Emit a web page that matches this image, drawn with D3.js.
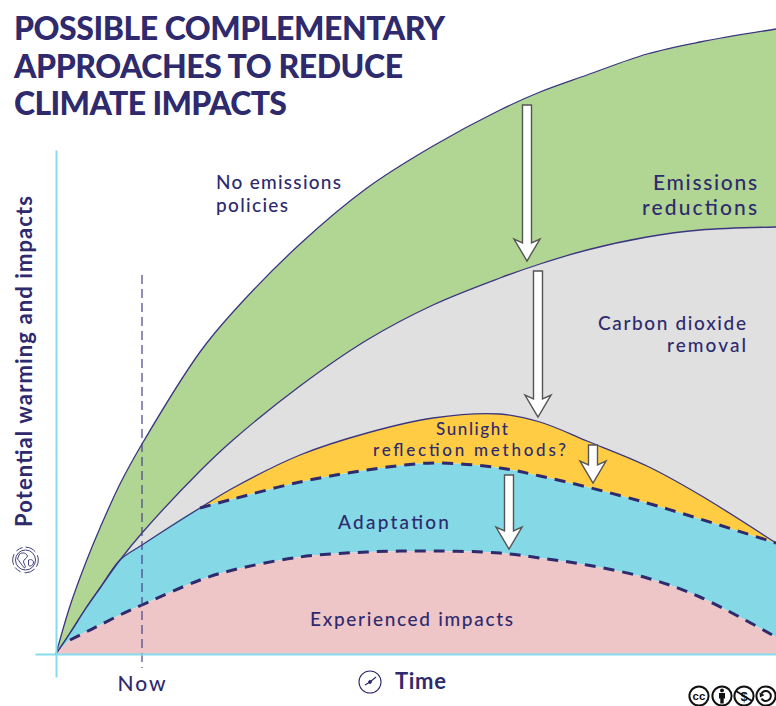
<!DOCTYPE html>
<html lang="en">

<head>
  <meta charset="UTF-8">
  <title>Possible complementary approaches to reduce climate impacts</title>
  <script src="https://cdn.jsdelivr.net/npm/d3@7"></script>
  <style type="text/css">
    html, body { margin: 0; padding: 0; background: #fff; overflow: hidden; }
    svg { display: block; }
    text { font-family: Lato, sans-serif; fill: #2e2a6d; }
  </style>
</head>

<body>
  <script type="text/javascript">
    // values
    var time = [0, 14, 30, 44, 64, 86, 144, 177, 244, 311, 377, 444, 484, 531, 591, 644, 720]
    var noPolicies = [0, 48, 92, 126, 170, 210, 302, 342, 410, 466, 508, 544, 562, 579, 600, 612, 625]
    var reductions = [0, 21, 46, 66, 94, 121, 183, 214, 268, 314, 349, 376, 390, 404, 417, 424, 427]
    var removal = [0, 21, 46, 66, 94, 109, 146, 166, 199, 221, 236, 240, 232, 213, 188, 159, 111]
    var sunlight = [0, 21, 46, 66, 94, 109, 146, 155, 172, 184, 191, 186, 178, 167, 151, 135, 111]
    var impacts = [0, 14, 22, 29, 39, 49, 74, 84, 97, 102, 103, 101, 96, 89, 76, 57, 17]

    // arrows between the curves
    var arrowTime = [471, 482, 537, 453]
    var arrowFrom = [549, 383, 209, 179]
    var arrowTo = [393, 237, 171, 105]

    var xTickValues = [86]
    var xTickLabels = ['Now']

    var w = 776
    var h = 706
    var navy = '#2e2a6d'
    var axisColor = '#85dcec'

    var xScale = d3.scaleLinear().domain([-21, 720]).range([35, 776])
    var yScale = d3.scaleLinear().domain([-23, 504]).range([677, 150])

    var svg = d3.select('body').append('svg').attr('width', w).attr('height', h)

    // bands, top to bottom
    var bands = [
      { upper: noPolicies, lower: reductions, fill: '#b1d694' },
      { upper: reductions, lower: removal, fill: '#e0e0e0' },
      { upper: removal, lower: sunlight, fill: '#ffcc44' },
      { upper: sunlight, lower: impacts, fill: '#85d8e6' },
      { upper: impacts, lower: null, fill: '#eec6c8' }
    ]
    var smooth = d3.curveCatmullRom.alpha(0.5)
    var band = d3.area().curve(smooth)
      .x(function (d) { return xScale(d[0]) })
      .y0(function (d) { return yScale(d[2]) })
      .y1(function (d) { return yScale(d[1]) })
    bands.forEach(function (b) {
      var rows = time.map(function (t, i) { return [t, b.upper[i], b.lower ? b.lower[i] : 0] })
      svg.append('path').attr('d', band(rows)).attr('fill', b.fill)
    })

    var line = d3.line().curve(smooth)
      .x(function (d) { return xScale(d[0]) })
      .y(function (d) { return yScale(d[1]) })
    function curve(values, start) {
      return line(time.map(function (t, i) { return [t, values[i]] }).slice(start))
    }
    // solid edges
    ;[noPolicies, reductions, removal].forEach(function (v) {
      svg.append('path').attr('d', curve(v, 0)).attr('fill', 'none')
        .attr('stroke', '#3a3680').attr('stroke-width', 1.3)
    })
    // dashed edges
    svg.append('path').attr('d', curve(sunlight, 6)).attr('fill', 'none')
      .attr('stroke', navy).attr('stroke-width', 3).attr('stroke-dasharray', '11 8')
    svg.append('path').attr('d', curve(impacts, 1)).attr('fill', 'none')
      .attr('stroke', navy).attr('stroke-width', 3).attr('stroke-dasharray', '11 8')

    // now line
    svg.append('line')
      .attr('x1', xScale(xTickValues[0])).attr('x2', xScale(xTickValues[0]))
      .attr('y1', yScale(379)).attr('y2', yScale(-14))
      .attr('stroke', '#45418a').attr('stroke-width', 1.2).attr('stroke-dasharray', '9 5')

    // axes
    var xAxis = d3.axisBottom(xScale).tickValues(xTickValues)
      .tickFormat(function (d, i) { return xTickLabels[i] }).tickSize(0).tickPadding(22)
    var gx = svg.append('g').attr('transform', 'translate(0,' + yScale(0) + ')').call(xAxis)
    var gy = svg.append('g').attr('transform', 'translate(' + xScale(0) + ',0)')
      .call(d3.axisLeft(yScale).tickValues([]).tickSize(0))
    gx.select('.domain').attr('stroke', axisColor).attr('stroke-width', 2)
    gy.select('.domain').attr('stroke', axisColor).attr('stroke-width', 2)
    gx.selectAll('text').style('font-family', 'Lato, sans-serif').style('font-size', '21px')
      .style('font-weight', 500).style('letter-spacing', '2px').attr('fill', navy)

    // arrows
    var arrowLine = d3.line()
    arrowTime.forEach(function (t, i) {
      var cx = xScale(t), top = yScale(arrowFrom[i]), tip = yScale(arrowTo[i]), wing = tip - 22
      var pts = [[cx - 4.5, top], [cx - 4.5, wing + 4], [cx - 13, wing], [cx, tip], [cx + 13, wing], [cx + 4.5, wing + 4], [cx + 4.5, top]]
      svg.append('path').attr('d', arrowLine(pts) + 'Z').attr('fill', '#fff')
        .attr('stroke', '#555').attr('stroke-width', 1.4).attr('stroke-linejoin', 'miter')
    })

    // text
    function label(s, x, y, len, size, weight) {
      return svg.append('text').attr('x', x).attr('y', y).text(s)
        .attr('textLength', len).attr('lengthAdjust', 'spacing')
        .style('font-size', size + 'px').style('font-weight', weight || 500)
    }
    label('POSSIBLE COMPLEMENTARY', 14, 40, 431, 32, 900)
    label('APPROACHES TO REDUCE', 14, 78, 389, 32, 900)
    label('CLIMATE IMPACTS', 14, 115, 273, 32, 900)

    label('No emissions', 216, 189, 125, 19)
    label('policies', 216, 212, 72, 19)
    label('Emissions', 653, 190, 104, 21)
    label('reductions', 642, 215, 115, 21)
    label('Carbon dioxide', 598, 330, 148, 19)
    label('removal', 667, 352, 79, 19)
    label('Sunlight', 436, 435, 72, 17)
    label('reflection methods?', 373, 456, 193, 17)
    label('Adaptation', 338, 529, 111, 19)
    label('Experienced impacts', 310, 626, 203, 19)
    label('Time', 395, 689, 51, 22, 700)

    svg.append('text').attr('transform', 'translate(32,527) rotate(-90)').text('Potential warming and impacts')
      .attr('textLength', 331).attr('lengthAdjust', 'spacing')
      .style('font-size', '22px').style('font-weight', 700)

    // clock icon
    var clock = svg.append('g').attr('transform', 'translate(370,682)')
      .attr('fill', 'none').attr('stroke', navy)
    clock.append('circle').attr('r', 11).attr('stroke-width', 1.1)
    clock.append('path').attr('d', 'M-5,3L0,0L6,-5').attr('stroke-width', 1.2)
    clock.append('circle').attr('r', 1.4).attr('fill', navy)

    // globe icon
    var globe = svg.append('g').attr('transform', 'translate(25.5,560)')
      .attr('fill', 'none').attr('stroke', navy).attr('stroke-width', 0.9)
    globe.append('circle').attr('r', 10)
    globe.append('circle').attr('r', 12.8).attr('stroke-dasharray', '7 3 11 4')
    globe.append('path').attr('d', 'M-6,-6C-3,-8 1,-7 2,-4C1,-1 -2,-1 -2,2C-1,5 1,7 -1,8C-4,5 -6,1 -8,-1Z').attr('fill', '#fff')
    globe.append('path').attr('d', 'M3,0C6,-1 8,0 8,3C7,6 4,7 3,5Z')

    // licence badges
    var badges = svg.append('g').attr('transform', 'translate(0,696)')
    ;[699, 722, 744, 766].forEach(function (cx) {
      badges.append('circle').attr('cx', cx).attr('r', 9.6).attr('fill', '#fff')
        .attr('stroke', '#111').attr('stroke-width', 2)
    })
    function badgeText(s, x, size) {
      badges.append('text').attr('x', x).attr('y', size * 0.36).text(s)
        .attr('text-anchor', 'middle').style('fill', '#111')
        .style('font-family', 'Liberation Sans, sans-serif')
        .style('font-size', size + 'px').style('font-weight', 700)
    }
    badgeText('cc', 699, 11.5)
    badges.append('circle').attr('cx', 722).attr('cy', -5.6).attr('r', 1.9).attr('fill', '#111')
    badges.append('path').attr('d', 'M719,-3H725V2.5H723.7V7.5H720.3V2.5H719Z').attr('fill', '#111')
    badgeText('$', 744, 13)
    badges.append('path').attr('d', 'M736,-5L752,5').attr('stroke', '#111').attr('stroke-width', 1.8)
    badges.append('path').attr('d', 'M761.5,-2.5A5,5 0 1 1 761.5,2.5').attr('fill', 'none')
      .attr('stroke', '#111').attr('stroke-width', 2)
    badges.append('path').attr('d', 'M759.5,-3.5L764.5,-1L760,1.5Z').attr('fill', '#111')
  </script>
</body>

</html>
